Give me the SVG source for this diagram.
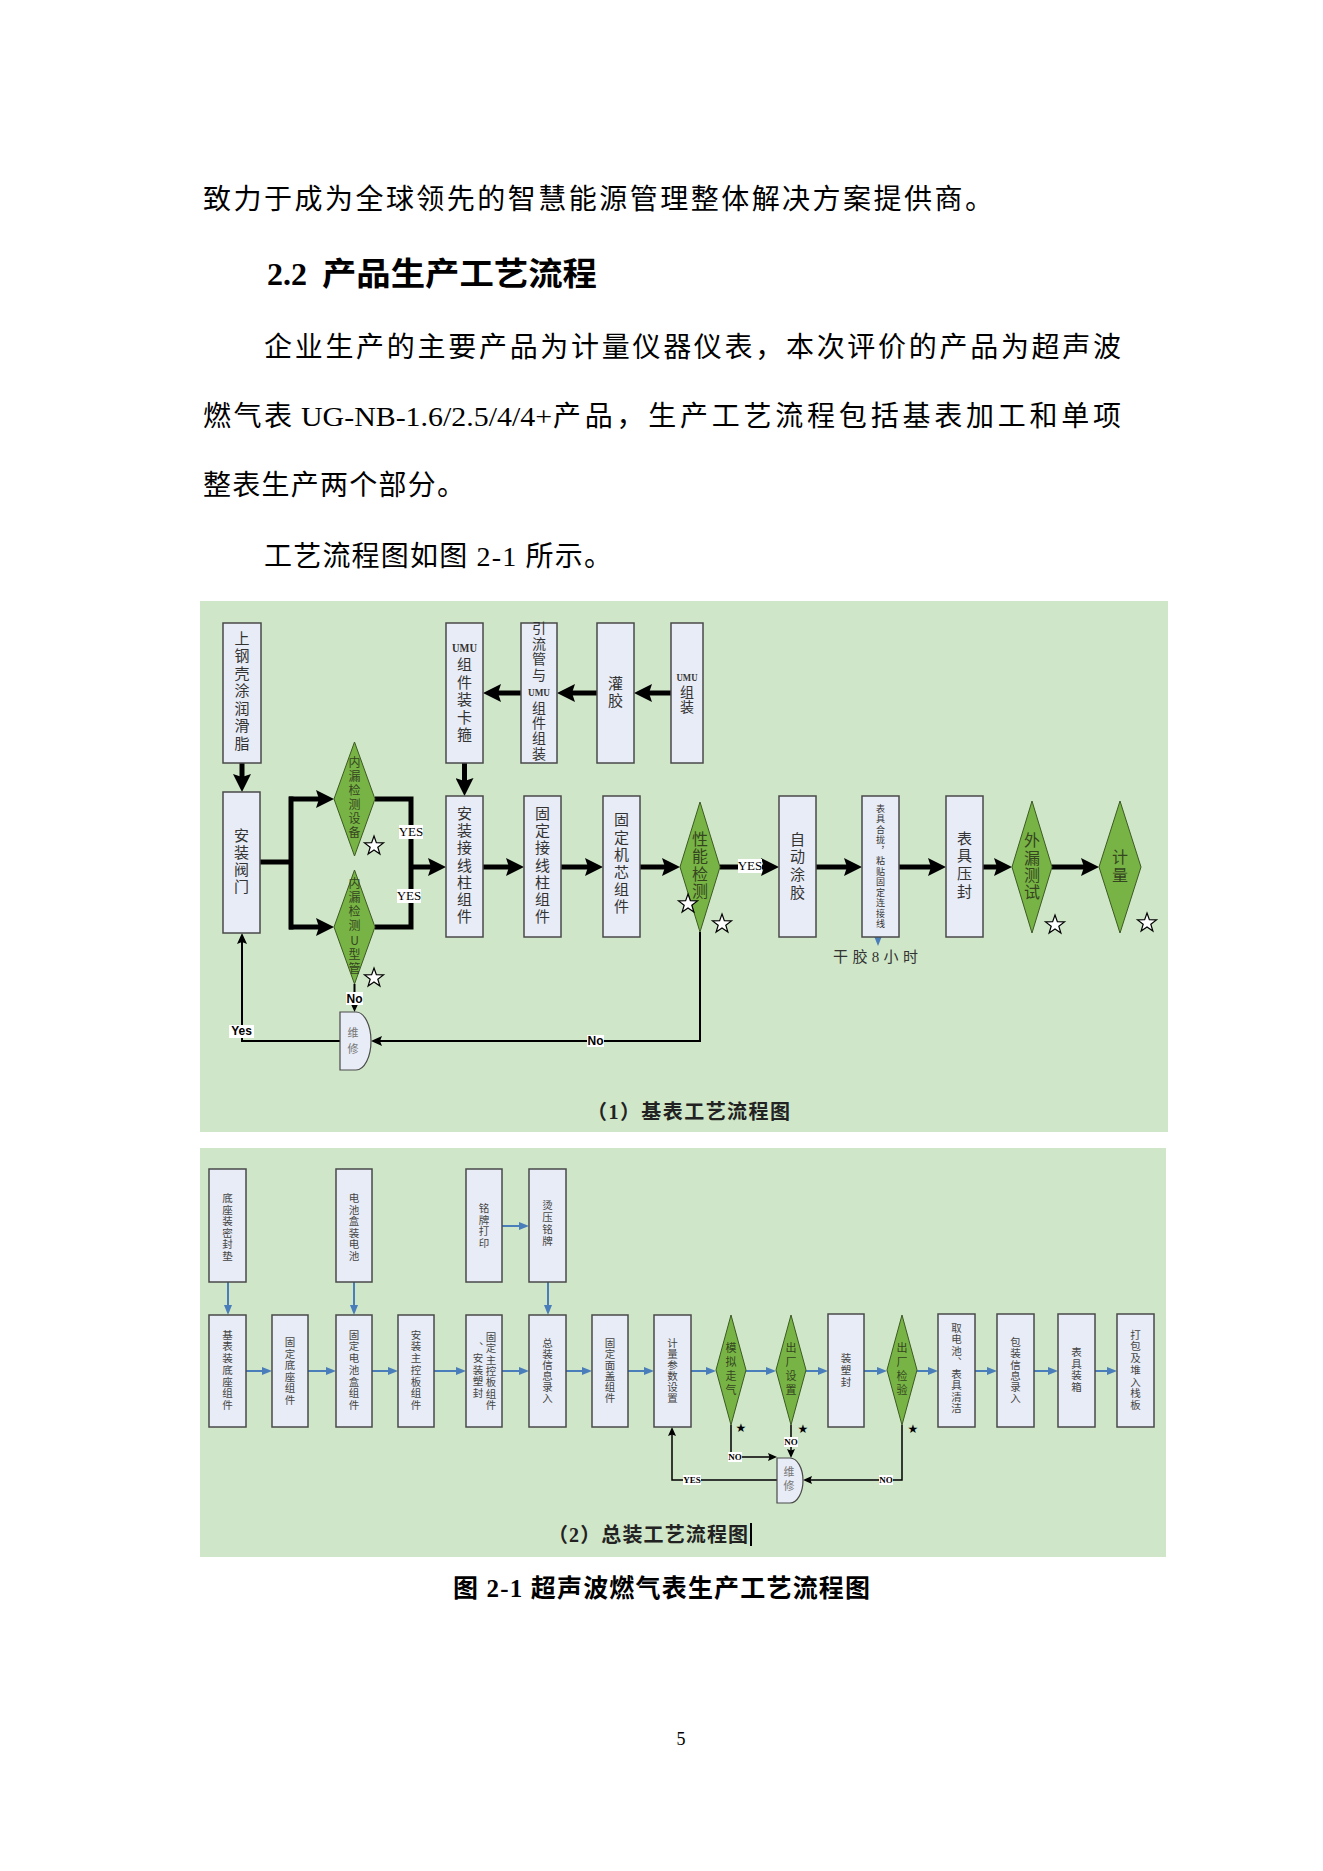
<svg xmlns="http://www.w3.org/2000/svg" width="1323" height="1871" viewBox="0 0 1323 1871">
<style>
.pn{fill:#cfe6c8}
.bx{fill:#e8ecf6;stroke:#4a4a4a;stroke-width:1.5}
.dm{fill:#78b445;stroke:#3c5a22;stroke-width:1}
.wx{fill:#e8ecf6;stroke:#4a4a4a;stroke-width:1.2}
.body{font-family:"Liberation Serif","Noto Sans CJK SC",serif;font-size:28px;fill:#000}
.hd{font-family:"Liberation Serif","Noto Sans CJK SC",serif;font-size:32px;font-weight:bold;fill:#000}
.cap{font-family:"Liberation Serif","Noto Sans CJK SC",serif;font-size:20px;font-weight:bold;fill:#222}
.fig{font-family:"Liberation Serif","Noto Sans CJK SC",serif;font-size:25px;font-weight:bold;fill:#000}
.v{writing-mode:vertical-rl;text-orientation:upright;text-anchor:middle}
.bt{font-family:"Noto Sans CJK SC",sans-serif;font-size:15px;fill:#333}
.b14{font-size:14px}
.b9{font-size:9px}
.dt{font-family:"Noto Sans CJK SC",sans-serif;font-size:16px;fill:#34451f}
.d12{font-size:12px}
.st{font-family:"Noto Sans CJK SC",sans-serif;font-size:10.5px;fill:#444}
.sd{font-family:"Noto Sans CJK SC",sans-serif;font-size:11px;fill:#34451f}
.wt{font-family:"Noto Sans CJK SC",sans-serif;font-size:11px;fill:#777}
.lat{font-family:"Liberation Serif",serif;font-weight:bold;fill:#333;text-anchor:middle}
.tk{fill:none;stroke:#000;stroke-width:5}
.tn{fill:none;stroke:#000;stroke-width:2}
.tn2{fill:none;stroke:#000;stroke-width:1.5}
.bl{fill:none;stroke:#4a7ebb;stroke-width:2}
.lb{fill:#fff}
.ly{font-family:"Liberation Serif",serif;font-size:13px;fill:#000;text-anchor:middle}
.ln{font-family:"Liberation Sans",sans-serif;font-size:12px;font-weight:bold;fill:#000;text-anchor:middle}
.l2{font-family:"Liberation Serif",serif;font-size:9px;font-weight:bold;fill:#000;text-anchor:middle}
.sw{fill:#fff;stroke:#000;stroke-width:1.2}
.bs{font-family:"DejaVu Sans",sans-serif;font-size:12px;fill:#000;text-anchor:middle}
</style>
<defs>
<marker id="ak" markerUnits="userSpaceOnUse" markerWidth="18" markerHeight="18" refX="8" refY="9" orient="auto"><path d="M0,0 L18,9 L0,18 L3,9 Z" fill="#000"/></marker>
<marker id="at" markerUnits="userSpaceOnUse" markerWidth="11" markerHeight="10" refX="7" refY="5" orient="auto"><path d="M0,0 L11,5 L0,10 L2,5 Z" fill="#000"/></marker>
<marker id="as" markerUnits="userSpaceOnUse" markerWidth="9" markerHeight="8" refX="5" refY="4" orient="auto"><path d="M0,0 L9,4 L0,8 L1.5,4 Z" fill="#000"/></marker>
<marker id="ab" markerUnits="userSpaceOnUse" markerWidth="10" markerHeight="8" refX="6" refY="4" orient="auto"><path d="M0,0 L10,4 L0,8 Z" fill="#4a7ebb"/></marker>
<path id="star" d="M0,-10 L2.35,-3.24 L9.51,-3.09 L3.8,1.24 L5.88,8.09 L0,4 L-5.88,8.09 L-3.8,1.24 L-9.51,-3.09 L-2.35,-3.24 Z"/>
</defs>
<rect width="1323" height="1871" fill="#fff"/>

<g id="page-text">
<text class="body" x="203" y="209" textLength="790" lengthAdjust="spacing">致力于成为全球领先的智慧能源管理整体解决方案提供商。</text>
<text class="hd" x="267" y="285">2.2</text>
<text class="hd" x="322" y="285" textLength="275" lengthAdjust="spacingAndGlyphs">产品生产工艺流程</text>
<text class="body" x="264" y="357" textLength="857" lengthAdjust="spacing">企业生产的主要产品为计量仪器仪表，本次评价的产品为超声波</text>
<text class="body" x="203" y="426" textLength="89" lengthAdjust="spacing">燃气表</text>
<text class="body" x="301" y="426" textLength="251" lengthAdjust="spacingAndGlyphs">UG-NB-1.6/2.5/4/4+</text>
<text class="body" x="553" y="426" textLength="568" lengthAdjust="spacing">产品，生产工艺流程包括基表加工和单项</text>
<text class="body" x="203" y="495" textLength="262" lengthAdjust="spacing">整表生产两个部分。</text>
<text class="body" x="264" y="566" textLength="348" lengthAdjust="spacing">工艺流程图如图 2-1 所示。</text>
</g>

<rect id="panel1" class="pn" x="200" y="601" width="968" height="531"/>
<rect id="panel2" class="pn" x="200" y="1148" width="966" height="409"/>

<g id="connectors">
<path class="tk" d="M671,693 H644" marker-end="url(#ak)"/>
<path class="tk" d="M597,693 H567" marker-end="url(#ak)"/>
<path class="tk" d="M521,693 H493" marker-end="url(#ak)"/>
<path class="tk" d="M464.5,763 V786" marker-end="url(#ak)"/>
<path class="tk" d="M242,763 V782" marker-end="url(#ak)"/>
<path class="tk" d="M260,862 H291"/>
<path class="tk" d="M291,796.5 V929.5"/>
<path class="tk" d="M289,799 H324" marker-end="url(#ak)"/>
<path class="tk" d="M289,927 H324" marker-end="url(#ak)"/>
<path class="tk" d="M375,799 H411 V927 H375"/>
<path class="tk" d="M409,867 H436" marker-end="url(#ak)"/>
<path class="tk" d="M483,867 H514" marker-end="url(#ak)"/>
<path class="tk" d="M561,867 H593" marker-end="url(#ak)"/>
<path class="tk" d="M640,867 H670" marker-end="url(#ak)"/>
<path class="tk" d="M720,867 H769" marker-end="url(#ak)"/>
<path class="tk" d="M816,867 H852" marker-end="url(#ak)"/>
<path class="tk" d="M899,867 H936" marker-end="url(#ak)"/>
<path class="tk" d="M983,867 H1002" marker-end="url(#ak)"/>
<path class="tk" d="M1052,867 H1089" marker-end="url(#ak)"/>
<path class="tn" d="M354.5,984 V1008" marker-end="url(#at)"/>
<path class="tn" d="M700,932 V1041 H375" marker-end="url(#at)"/>
<path class="tn" d="M340,1041 H242 V937" marker-end="url(#at)"/>
<path class="bl" d="M878,937 V942" marker-end="url(#ab)"/>
<rect class="lb" x="399" y="825" width="24" height="14"/><text class="ly" x="411" y="836">YES</text>
<rect class="lb" x="397" y="889" width="24" height="14"/><text class="ly" x="409" y="900">YES</text>
<rect class="lb" x="738" y="859" width="24" height="14"/><text class="ly" x="750" y="870">YES</text>
<rect class="lb" x="346" y="992" width="17" height="13"/><text class="ln" x="354.5" y="1003">No</text>
<rect class="lb" x="229" y="1025" width="25" height="13"/><text class="ln" x="241.5" y="1035">Yes</text>
<rect class="lb" x="587" y="1035" width="17" height="12"/><text class="ln" x="595.5" y="1045">No</text>
<path class="bl" d="M228,1282 V1311" marker-end="url(#ab)"/>
<path class="bl" d="M354,1282 V1311" marker-end="url(#ab)"/>
<path class="bl" d="M548,1282 V1311" marker-end="url(#ab)"/>
<path class="bl" d="M502,1226 H525" marker-end="url(#ab)"/>
<path class="bl" d="M246,1371 H268" marker-end="url(#ab)"/>
<path class="bl" d="M308,1371 H332" marker-end="url(#ab)"/>
<path class="bl" d="M372,1371 H394" marker-end="url(#ab)"/>
<path class="bl" d="M434,1371 H462" marker-end="url(#ab)"/>
<path class="bl" d="M502,1371 H525" marker-end="url(#ab)"/>
<path class="bl" d="M566,1371 H588" marker-end="url(#ab)"/>
<path class="bl" d="M628,1371 H650" marker-end="url(#ab)"/>
<path class="bl" d="M691,1371 H712" marker-end="url(#ab)"/>
<path class="bl" d="M746,1371 H772" marker-end="url(#ab)"/>
<path class="bl" d="M806,1371 H824" marker-end="url(#ab)"/>
<path class="bl" d="M864,1371 H883" marker-end="url(#ab)"/>
<path class="bl" d="M917,1371 H934" marker-end="url(#ab)"/>
<path class="bl" d="M975,1371 H993" marker-end="url(#ab)"/>
<path class="bl" d="M1034,1371 H1054" marker-end="url(#ab)"/>
<path class="bl" d="M1095,1371 H1113" marker-end="url(#ab)"/>
<path class="tn2" d="M731,1425 V1457 H773" marker-end="url(#as)"/>
<path class="tn2" d="M791,1425 V1454" marker-end="url(#as)"/>
<path class="tn2" d="M902,1425 V1480 H807" marker-end="url(#as)"/>
<path class="tn2" d="M777,1480 H672 V1431" marker-end="url(#as)"/>
<rect class="lb" x="728" y="1452" width="14" height="10"/><text class="l2" x="735" y="1460">NO</text>
<rect class="lb" x="784" y="1437" width="14" height="10"/><text class="l2" x="791" y="1445">NO</text>
<rect class="lb" x="879" y="1475" width="14" height="10"/><text class="l2" x="886" y="1483">NO</text>
<rect class="lb" x="683" y="1475" width="18" height="10"/><text class="l2" x="692" y="1483">YES</text>
</g>

<g id="n-shanggang"><rect class="bx" x="223" y="623" width="38" height="140"/>
<text class="bt v" x="242" y="692" letter-spacing="2.5">上钢壳涂润滑脂</text></g>
<g id="n-famen"><rect class="bx" x="223" y="792" width="37" height="141"/>
<text class="bt v" x="241.5" y="862" letter-spacing="2.3">安装阀门</text></g>
<g id="n-umuka"><rect class="bx" x="446" y="623" width="37" height="140"/>
<text class="lat" x="464.5" y="652" font-size="12" textLength="25" lengthAdjust="spacingAndGlyphs">UMU</text>
<text class="bt v" x="464.5" y="701" letter-spacing="2.5">组件装卡箍</text></g>
<g id="n-yinliu"><rect class="bx" x="521" y="623" width="36" height="140"/>
<text class="bt b14 v" x="539" y="652" letter-spacing="1.7">引流管与</text>
<text class="lat" x="539" y="696" font-size="11" textLength="22" lengthAdjust="spacingAndGlyphs">UMU</text>
<text class="bt b14 v" x="539" y="731" letter-spacing="1.3">组件组装</text></g>
<g id="n-guanjiao"><rect class="bx" x="597" y="623" width="37" height="140"/>
<text class="bt v" x="615.5" y="692.5" letter-spacing="2">灌胶</text></g>
<g id="n-umuzu"><rect class="bx" x="671" y="623" width="32" height="140"/>
<text class="lat" x="687" y="681" font-size="11" textLength="21" lengthAdjust="spacingAndGlyphs">UMU</text>
<text class="bt b14 v" x="687" y="700" letter-spacing="1">组装</text></g>
<g id="n-jiexian"><rect class="bx" x="446" y="796" width="37" height="141"/>
<text class="bt v" x="464.5" y="866" letter-spacing="2.3">安装接线柱组件</text></g>
<g id="n-gudingjx"><rect class="bx" x="524" y="796" width="37" height="141"/>
<text class="bt v" x="542.5" y="866" letter-spacing="2.3">固定接线柱组件</text></g>
<g id="n-jixin"><rect class="bx" x="603" y="796" width="37" height="141"/>
<text class="bt v" x="621.5" y="864.5" letter-spacing="2.4">固定机芯组件</text></g>
<g id="n-tujiao"><rect class="bx" x="779" y="796" width="37" height="141"/>
<text class="bt v" x="797.5" y="867" letter-spacing="2.7">自动涂胶</text></g>
<g id="n-helong"><rect class="bx" x="862" y="796" width="37" height="141"/>
<text class="bt b9 v" x="880.5" y="867" letter-spacing="1.5">表具合拢，粘贴固定连接线</text>
<text class="bt" x="833" y="962" font-size="17" textLength="85" lengthAdjust="spacing" style="font-family:'Liberation Serif','Noto Sans CJK SC',serif">干胶8小时</text></g>
<g id="n-yafeng"><rect class="bx" x="946" y="796" width="37" height="141"/>
<text class="bt v" x="964.5" y="866" letter-spacing="2.7">表具压封</text></g>
<g id="n-d1"><polygon class="dm" points="354.5,742 375,799 354.5,856 334,799"/>
<text class="dt d12 v" x="354.5" y="798" letter-spacing="2">内漏检测设备</text>
<use href="#star" class="sw" x="374" y="846"/></g>
<g id="n-d2"><polygon class="dm" points="354.5,870 375,927 354.5,984 334,927"/>
<text class="dt d12 v" x="354.5" y="927" letter-spacing="2.2">内漏检测U型管</text>
<use href="#star" class="sw" x="374" y="978"/></g>
<g id="n-d3"><polygon class="dm" points="700,802 720,867 700,932 680,867"/>
<text class="dt v" x="700" y="865.5" letter-spacing="1.2">性能检测</text>
<use href="#star" class="sw" x="688" y="904"/><use href="#star" class="sw" x="722" y="924"/></g>
<g id="n-d4"><polygon class="dm" points="1032,801 1052,867 1032,933 1012,867"/>
<text class="dt v" x="1032" y="867" letter-spacing="1.3">外漏测试</text>
<use href="#star" class="sw" x="1055" y="925"/></g>
<g id="n-d5"><polygon class="dm" points="1120,801 1141,867 1120,933 1099,867"/>
<text class="dt v" x="1120" y="867" letter-spacing="2">计量</text>
<use href="#star" class="sw" x="1147" y="923"/></g>
<g id="n-weixiu1"><path class="wx" d="M340,1012 H356 A15,29 0 0 1 356,1070 H340 Z"/>
<text class="wt v" x="353" y="1043" letter-spacing="5">维修</text></g>
<text class="cap" x="587" y="1119" textLength="203" lengthAdjust="spacing">（1）基表工艺流程图</text>

<g id="n-dizuomi"><rect class="bx" x="209" y="1169" width="37" height="113"/>
<text class="st v" x="227.5" y="1227.5" letter-spacing="1">底座装密封垫</text></g>
<g id="n-dianchi"><rect class="bx" x="336" y="1169" width="36" height="113"/>
<text class="st v" x="354" y="1227.5" letter-spacing="1">电池盒装电池</text></g>
<g id="n-mingpai"><rect class="bx" x="466" y="1169" width="36" height="113"/>
<text class="st v" x="484" y="1226" letter-spacing="1.2">铭牌打印</text></g>
<g id="n-tangya"><rect class="bx" x="529" y="1169" width="37" height="113"/>
<text class="st v" x="547.5" y="1224" letter-spacing="1.5">烫压铭牌</text></g>
<g id="n-jibiao"><rect class="bx" x="209" y="1315" width="37" height="112"/>
<text class="st v" x="227.5" y="1370.5" letter-spacing="1.2">基表装底座组件</text></g>
<g id="n-dizuo"><rect class="bx" x="272" y="1315" width="36" height="112"/>
<text class="st v" x="290" y="1371.5" letter-spacing="1.1">固定底座组件</text></g>
<g id="n-dianchihe"><rect class="bx" x="336" y="1315" width="36" height="112"/>
<text class="st v" x="354" y="1370.5" letter-spacing="1.2">固定电池盒组件</text></g>
<g id="n-zhukong"><rect class="bx" x="398" y="1315" width="36" height="112"/>
<text class="st v" x="416" y="1370.5" letter-spacing="1.2">安装主控板组件</text></g>
<g id="n-zhukong2"><rect class="bx" x="466" y="1315" width="36" height="112"/>
<text class="st v" x="491" y="1371.5" letter-spacing="0.8">固定主控板组件</text>
<text class="st v" x="478" y="1370.5" letter-spacing="1">、安装塑封</text></g>
<g id="n-xinxi"><rect class="bx" x="529" y="1315" width="37" height="112"/>
<text class="st v" x="547.5" y="1371" letter-spacing="0.5">总装信息录入</text></g>
<g id="n-miangai"><rect class="bx" x="592" y="1315" width="36" height="112"/>
<text class="st v" x="610" y="1371" letter-spacing="0.5">固定面盖组件</text></g>
<g id="n-jiliang"><rect class="bx" x="654" y="1315" width="37" height="112"/>
<text class="st v" x="672.5" y="1371" letter-spacing="0.5">计量参数设置</text></g>
<g id="n-moni"><polygon class="dm" points="731,1315 746,1370 731,1425 716,1370"/>
<text class="sd v" x="731" y="1370.5" letter-spacing="3">模拟走气</text>
<text class="bs" x="741" y="1432">★</text></g>
<g id="n-chuchang"><polygon class="dm" points="791,1315 806,1370 791,1425 776,1370"/>
<text class="sd v" x="791" y="1370.5" letter-spacing="3">出厂设置</text>
<text class="bs" x="803" y="1433">★</text></g>
<g id="n-suofeng"><rect class="bx" x="828" y="1314" width="36" height="113"/>
<text class="st v" x="846" y="1371" letter-spacing="1.5">装塑封</text></g>
<g id="n-jianyan"><polygon class="dm" points="902,1315 917,1370 902,1425 887,1370"/>
<text class="sd v" x="902" y="1370.5" letter-spacing="3">出厂检验</text>
<text class="bs" x="913" y="1433">★</text></g>
<g id="n-qudian"><rect class="bx" x="938" y="1314" width="37" height="113"/>
<text class="st v" x="956.5" y="1368.5" letter-spacing="1">取电池、表具清洁</text></g>
<g id="n-baozhuang"><rect class="bx" x="997" y="1314" width="37" height="113"/>
<text class="st v" x="1015.5" y="1370.5" letter-spacing="0.7">包装信息录入</text></g>
<g id="n-zhuangxiang"><rect class="bx" x="1058" y="1314" width="37" height="113"/>
<text class="st v" x="1076.5" y="1370" letter-spacing="1.2">表具装箱</text></g>
<g id="n-dabao"><rect class="bx" x="1117" y="1314" width="37" height="113"/>
<text class="st v" x="1135.5" y="1370.5" letter-spacing="1.2">打包及堆入栈板</text></g>
<g id="n-weixiu2"><path class="wx" d="M777,1458 H790 A13,22.5 0 0 1 790,1503 H777 Z"/>
<text class="wt v" x="789" y="1480.5" font-size="9" letter-spacing="3">维修</text></g>
<text class="cap" x="548" y="1542" textLength="200" lengthAdjust="spacing">（2）总装工艺流程图</text>
<line x1="751" y1="1523" x2="751" y2="1546" stroke="#000" stroke-width="2"/>

<text class="fig" x="453" y="1597" textLength="417" lengthAdjust="spacing">图 2-1 超声波燃气表生产工艺流程图</text>
<text x="681" y="1745" font-family="'Liberation Serif',serif" font-size="18" text-anchor="middle">5</text>
</svg>
